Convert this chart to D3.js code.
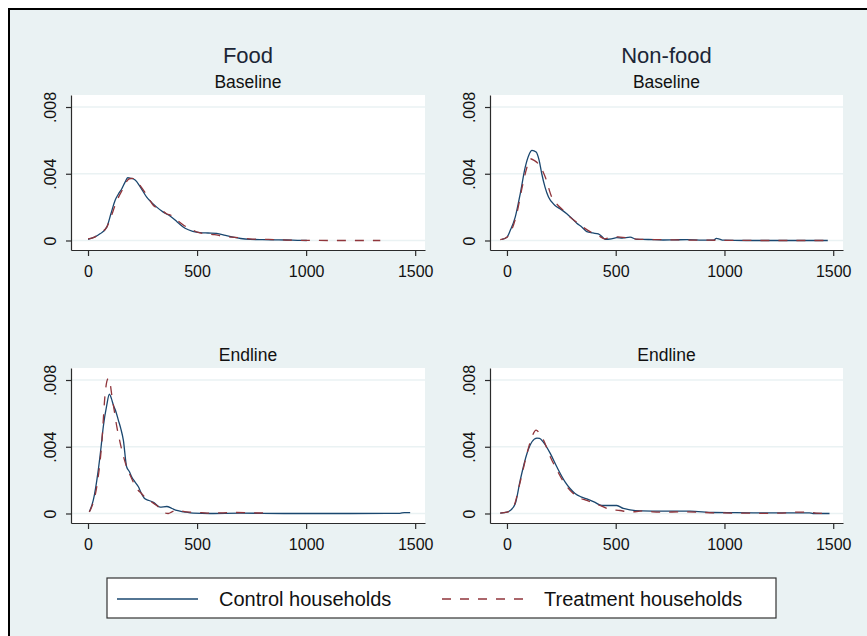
<!DOCTYPE html>
<html>
<head>
<meta charset="utf-8">
<script src="https://cdn.jsdelivr.net/npm/d3@7"></script>
<style>
  body { margin: 0; background: #fff; }
  svg { display: block; font-family: 'Liberation Sans', Arial, sans-serif; }
  .axis path, .axis line { stroke: #2b2b2b; stroke-width: 1.2; }
  .axis text { fill: #111; font-size: 16px; }
</style>
</head>
<body>
<div id="container"><svg></svg></div>
<script>
// kernel density estimates (x = expenditure, y = density)
const foodBaseCtrlX = [0, 30, 55, 86, 105, 124, 140, 155, 170, 182, 195, 216, 240, 269, 290, 315, 345, 376, 410, 445, 480, 514, 550, 590, 630, 665, 700, 743, 800, 860, 911, 960, 1003]
const foodBaseCtrlY = [0.00007, 0.0002, 0.0004, 0.0008, 0.0016, 0.0024, 0.0028, 0.0031, 0.0035, 0.00376, 0.00373, 0.00363, 0.0032, 0.0026, 0.0023, 0.0020, 0.0017, 0.00147, 0.0011, 0.00073, 0.00055, 0.00047, 0.00045, 0.00043, 0.0003, 0.0002, 0.00012, 0.00007, 0.00005, 0.00004, 0.00003, 0.00001, 0]
const foodBaseTreatX = [0, 30, 55, 86, 105, 124, 140, 160, 175, 190, 205, 225, 250, 275, 300, 330, 360, 385, 410, 440, 470, 505, 540, 580, 620, 660, 700, 740, 800, 870, 920, 1000, 1100, 1200, 1340]
const foodBaseTreatY = [0.0001, 0.0002, 0.00045, 0.0008, 0.0014, 0.0021, 0.0026, 0.0031, 0.0035, 0.0037, 0.00372, 0.0035, 0.0031, 0.0026, 0.0021, 0.0019, 0.0016, 0.00148, 0.0012, 0.0009, 0.0007, 0.00048, 0.0004, 0.00035, 0.00025, 0.0002, 0.00015, 0.0001, 0.00007, 0.00005, 0.00002, 0.00001, 0, 0, 0]

const nonfoodBaseCtrlX = [-23, 0, 15, 38, 61, 84, 100, 115, 134, 148, 160, 175, 191, 221, 250, 275, 300, 321, 345, 367, 395, 420, 440, 451, 480, 505, 530, 566, 596, 650, 718, 770, 826, 900, 950, 963, 978, 994, 1100, 1300, 1475]
const nonfoodBaseCtrlY = [0.00007, 0.0002, 0.0006, 0.0014, 0.0028, 0.0044, 0.0051, 0.0054, 0.0053, 0.0048, 0.0040, 0.0032, 0.0026, 0.0021, 0.00185, 0.0016, 0.0013, 0.00103, 0.0008, 0.00053, 0.00045, 0.00039, 0.0002, 0.00007, 0.0001, 0.00017, 0.00015, 0.0002, 0.00007, 0.00006, 0.00003, 0.00004, 0.00005, 0.00002, 0.00002, 0.00013, 0.00008, 0.00002, 0, 0, 0]
const nonfoodBaseTreatX = [-31, 0, 20, 45, 70, 90, 107, 125, 150, 176, 206, 235, 260, 290, 320, 350, 380, 420, 450, 470, 490, 520, 560, 600, 650, 700, 800, 900, 1000, 1200, 1475]
const nonfoodBaseTreatY = [0.00005, 0.0002, 0.0006, 0.0016, 0.0032, 0.0043, 0.0049, 0.0048, 0.0045, 0.0038, 0.0026, 0.0021, 0.0018, 0.0014, 0.0011, 0.0008, 0.00055, 0.0003, 0.0001, 0.00018, 0.00023, 0.0002, 0.00015, 0.00008, 0.00006, 0.00005, 0.00003, 0.00002, 0.00001, 0, 0]

const foodEndCtrlX = [6, 24, 47, 60, 70, 86, 98, 107, 116, 128, 139, 150, 162, 177, 190, 200, 215, 231, 245, 261, 280, 300, 330, 361, 385, 407, 440, 483, 560, 700, 900, 1200, 1430, 1450, 1477]
const foodEndCtrlY = [0.0001, 0.00078, 0.0026, 0.0040, 0.0052, 0.0065, 0.00715, 0.0069, 0.0065, 0.0061, 0.0056, 0.0051, 0.0044, 0.0028, 0.0025, 0.0022, 0.0019, 0.0016, 0.0012, 0.00088, 0.00078, 0.00067, 0.00038, 0.00042, 0.0003, 0.00018, 0.0001, 0.00002, 0, 0.00002, 0, 0, 0.00001, 0.00005, 0.00005]
const foodEndTreatX = [6, 20, 40, 63, 78, 86, 93, 100, 109, 120, 132, 143, 155, 177, 200, 223, 245, 269, 290, 315, 330, 345, 368, 385, 407, 430, 468, 520, 560, 620, 680, 740, 780, 826]
const foodEndTreatY = [0.0001, 0.0005, 0.0016, 0.0042, 0.0071, 0.0079, 0.0081, 0.0079, 0.0071, 0.0062, 0.0052, 0.0045, 0.0038, 0.0028, 0.0021, 0.0015, 0.0012, 0.00088, 0.0007, 0.00048, 0.0003, 0.00008, 0, 0.0001, 0.00022, 0.00015, 0.00008, 0.00005, 0.00002, 0.00004, 0.00006, 0.00004, 0.00003, 0.00005]

const nonfoodEndCtrlX = [-31, 0, 15, 38, 61, 92, 115, 138, 150, 168, 199, 229, 267, 290, 313, 340, 367, 400, 436, 470, 505, 535, 566, 620, 718, 841, 948, 1050, 1177, 1300, 1391, 1407, 1483]
const nonfoodEndCtrlY = [0.00002, 0.00008, 0.00018, 0.00058, 0.002, 0.0036, 0.0043, 0.00452, 0.0045, 0.00426, 0.0036, 0.0028, 0.0019, 0.0015, 0.0012, 0.001, 0.00088, 0.0007, 0.00048, 0.00048, 0.00048, 0.0003, 0.00022, 0.00016, 0.00014, 0.00014, 0.00006, 0.00005, 0.00004, 0.00004, 0.00004, 0, 0]
const nonfoodEndTreatX = [-31, 0, 30, 61, 92, 115, 134, 150, 168, 199, 230, 260, 305, 340, 367, 400, 428, 474, 520, 566, 627, 670, 718, 800, 872, 950, 1101, 1200, 1254, 1300, 1330, 1391, 1420, 1483]
const nonfoodEndTreatY = [0.00002, 0.00008, 0.0004, 0.0019, 0.0036, 0.0046, 0.0050, 0.0048, 0.0044, 0.0034, 0.0026, 0.0019, 0.0012, 0.0009, 0.00078, 0.0006, 0.00048, 0.00024, 0.00018, 0.00008, 0.00016, 0.0001, 0.00008, 0.0001, 0.00008, 0.00004, 0.00002, 0.00001, 0.00002, 0.00006, 0.00008, 0.00008, 0.00002, 0]

const xTicks = [0, 500, 1000, 1500]
const yTicks = [0, 0.004, 0.008]
const columnTitles = ['Food', 'Non-food']
const rowTitles = ['Baseline', 'Endline']
const seriesNames = ['Control households', 'Treatment households']

const panels = [
  { col: 0, row: 0, ctrl: [foodBaseCtrlX, foodBaseCtrlY], treat: [foodBaseTreatX, foodBaseTreatY] },
  { col: 1, row: 0, ctrl: [nonfoodBaseCtrlX, nonfoodBaseCtrlY], treat: [nonfoodBaseTreatX, nonfoodBaseTreatY] },
  { col: 0, row: 1, ctrl: [foodEndCtrlX, foodEndCtrlY], treat: [foodEndTreatX, foodEndTreatY] },
  { col: 1, row: 1, ctrl: [nonfoodEndCtrlX, nonfoodEndCtrlY], treat: [nonfoodEndTreatX, nonfoodEndTreatY] }
]

const W = 867, H = 636
const colLeft = [71, 490], colRight = [425, 843]
const rowTop = [95, 368], plotH = 155
const ctrlColor = '#1a476f', treatColor = '#90353b'
const bg = '#eaf2f3'

const svg = d3.select('svg').attr('width', W).attr('height', H)

// graph region with the black frame
svg.append('rect').attr('width', W).attr('height', H).attr('fill', '#fff')
svg.append('rect')
  .attr('x', 9).attr('y', 9)
  .attr('width', W + 10).attr('height', H + 10)
  .attr('fill', bg)
  .attr('stroke', '#000')
  .attr('stroke-width', 2)

columnTitles.forEach((t, i) => {
  svg.append('text')
    .attr('x', (colLeft[i] + colRight[i]) / 2)
    .attr('y', 63)
    .attr('text-anchor', 'middle')
    .attr('font-size', 22)
    .attr('fill', '#1c2636')
    .text(t)
})

panels.forEach(p => {
  const left = colLeft[p.col], right = colRight[p.col]
  const top = rowTop[p.row], bottom = top + plotH

  const xScale = d3.scaleLinear().domain([-78, 1545]).range([left, right])
  const yScale = d3.scaleLinear().domain([-0.00057, 0.00872]).range([bottom, top])

  svg.append('rect')
    .attr('x', left).attr('y', top)
    .attr('width', right - left).attr('height', plotH)
    .attr('fill', '#fff')

  // horizontal grid lines
  svg.append('g')
    .selectAll('line')
    .data(yTicks)
    .enter()
    .append('line')
    .attr('x1', left).attr('x2', right)
    .attr('y1', d => yScale(d)).attr('y2', d => yScale(d))
    .attr('stroke', bg)
    .attr('stroke-width', 1.6)

  svg.append('text')
    .attr('x', (left + right) / 2)
    .attr('y', top - 7)
    .attr('text-anchor', 'middle')
    .attr('font-size', 17.5)
    .attr('fill', '#111')
    .text(rowTitles[p.row])

  const xAxis = svg.append('g')
    .attr('class', 'axis')
    .attr('transform', `translate(0, ${bottom})`)
    .call(d3.axisBottom(xScale)
      .tickValues(xTicks)
      .tickSize(6)
      .tickSizeOuter(0)
      .tickFormat(d3.format('d')))
  xAxis.selectAll('text').attr('y', 27).attr('dy', 0)

  const yAxis = svg.append('g')
    .attr('class', 'axis')
    .attr('transform', `translate(${left}, 0)`)
    .call(d3.axisLeft(yScale)
      .tickValues(yTicks)
      .tickSize(5)
      .tickSizeOuter(0)
      .tickFormat(d => d === 0 ? '0' : d3.format('.3f')(d).replace(/^0/, '')))
  yAxis.selectAll('text')
    .attr('transform', 'rotate(-90)')
    .attr('x', 0).attr('y', -15.5).attr('dy', 0)
    .attr('text-anchor', 'middle')

  const line = d3.line()
    .x(d => xScale(d[0]))
    .y(d => yScale(d[1]))
    .curve(d3.curveMonotoneX)

  svg.append('path')
    .datum(d3.zip(p.ctrl[0], p.ctrl[1]))
    .attr('d', line)
    .attr('fill', 'none')
    .attr('stroke', ctrlColor)
    .attr('stroke-width', 1.3)

  svg.append('path')
    .datum(d3.zip(p.treat[0], p.treat[1]))
    .attr('d', line)
    .attr('fill', 'none')
    .attr('stroke', treatColor)
    .attr('stroke-width', 1.3)
    .attr('stroke-dasharray', '9,9')
})

// legend
const legend = svg.append('g')
legend.append('rect')
  .attr('x', 107).attr('y', 578)
  .attr('width', 669).attr('height', 40)
  .attr('fill', '#fff')
  .attr('stroke', '#333')
  .attr('stroke-width', 1.2)

const legendX = [117, 442]
seriesNames.forEach((name, i) => {
  legend.append('line')
    .attr('x1', legendX[i]).attr('x2', legendX[i] + 81)
    .attr('y1', 599).attr('y2', 599)
    .attr('stroke', i === 0 ? ctrlColor : treatColor)
    .attr('stroke-width', 1.3)
    .attr('stroke-dasharray', i === 0 ? null : '9,9')
  legend.append('text')
    .attr('x', legendX[i] + 102)
    .attr('y', 606)
    .attr('font-size', 20)
    .attr('fill', '#111')
    .text(name)
})
</script>
</body>
</html>
